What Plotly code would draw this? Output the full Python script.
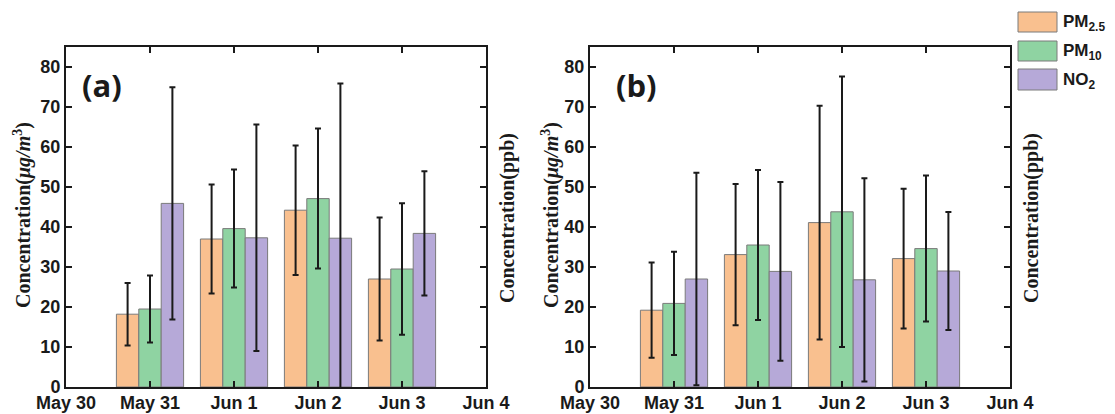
import plotly.graph_objects as go

dates = ["2020-05-31", "2020-06-01", "2020-06-02", "2020-06-03"]
series = ["PM<sub>2.5</sub>", "PM<sub>10</sub>", "NO<sub>2</sub>"]
colors = ["#F9C08F", "#8FD3A2", "#B6A9D8"]

# Panel (a)
a_pm25 = [18.2, 37.0, 44.2, 27.0]
a_pm25_sd = [7.8, 13.65, 16.2, 15.4]
a_pm10 = [19.5, 39.6, 47.1, 29.5]
a_pm10_sd = [8.35, 14.75, 17.5, 16.45]
a_no2 = [45.9, 37.3, 37.2, 38.4]
a_no2_sd = [29.05, 28.3, 38.7, 15.55]

# Panel (b)
b_pm25 = [19.2, 33.1, 41.1, 32.1]
b_pm25_sd = [11.9, 17.65, 29.2, 17.45]
b_pm10 = [20.9, 35.5, 43.8, 34.6]
b_pm10_sd = [12.9, 18.75, 33.8, 18.25]
b_no2 = [27.0, 28.9, 26.8, 29.0]
b_no2_sd = [26.55, 22.35, 25.4, 14.75]

# page body has an 8px margin: figure occupies (8..1115, 8..414)
OFF = 8
W, H = 1115 - OFF, 414 - OFF
fig = go.Figure()

panels = [
    ("x", "y", [a_pm25, a_pm10, a_no2], [a_pm25_sd, a_pm10_sd, a_no2_sd]),
    ("x2", "y2", [b_pm25, b_pm10, b_no2], [b_pm25_sd, b_pm10_sd, b_no2_sd]),
]
for xa, ya, vals, sds in panels:
    for name, v, sd, c in zip(series, vals, sds, colors):
        fig.add_trace(go.Bar(
            x=dates, y=v, name=name, xaxis=xa, yaxis=ya,
            marker=dict(color=c, line=dict(color="#7a7a7a", width=1)),
            error_y=dict(type="data", array=sd, color="#1a1a1a", thickness=2, width=3),
            showlegend=False,
        ))

xtickfont = dict(family="Liberation Sans, Arial", size=18, color="#1a1a1a", weight="bold")
ytickfont = dict(family="Liberation Sans, Arial", size=18, color="#1a1a1a", weight="bold")


def px_x(p):
    return (p - OFF) / W


def px_y(p):
    return 1 - (p - OFF) / H


xcommon = dict(
    type="date", range=["2020-05-30", "2020-06-04"], tickformat="%b %-d",
    tick0="2020-05-30", dtick=86400000, ticks="inside", ticklen=6, tickwidth=2,
    tickcolor="#1a1a1a", showline=True, linewidth=2, linecolor="#1a1a1a",
    mirror="ticks", showgrid=False, zeroline=False, tickfont=xtickfont, automargin=False,
    ticklabelstandoff=-2,
)
ycommon = dict(
    range=[0, 85], tickvals=[0, 10, 20, 30, 40, 50, 60, 70, 80], ticks="inside",
    ticklen=6, tickwidth=2, tickcolor="#1a1a1a", showline=True, linewidth=2,
    linecolor="#1a1a1a", mirror="ticks", showgrid=False, zeroline=False,
    tickfont=ytickfont, automargin=False,
)

ydom = [px_y(387), px_y(47)]
fig.update_layout(
    width=W, height=H, margin=dict(l=0, r=0, t=0, b=0),
    paper_bgcolor="white", plot_bgcolor="white",
    barmode="group", bargap=0.2, bargroupgap=0,
    xaxis=dict(domain=[px_x(66), px_x(486)], anchor="y", **xcommon),
    yaxis=dict(domain=ydom, anchor="x", **ycommon),
    xaxis2=dict(domain=[px_x(590), px_x(1010)], anchor="y2", **xcommon),
    yaxis2=dict(domain=ydom, anchor="x2", **ycommon),
    showlegend=False,
)

titlefont = dict(family="Liberation Serif, Times New Roman", size=20, color="#1a1a1a", weight="bold")
ann = []
for left_x, right_x, lab, lab_x in [(22, 507, "(a)", 102), (550, 1031, "(b)", 636)]:
    ann.append(dict(x=px_x(left_x), y=px_y(215), xref="paper", yref="paper",
                    text="Concentration(<i>μg/m</i><sup>3</sup>)", textangle=-90,
                    showarrow=False, font=titlefont, xanchor="center", yanchor="middle"))
    ann.append(dict(x=px_x(right_x), y=px_y(218), xref="paper", yref="paper",
                    text="Concentration(ppb)", textangle=-90,
                    showarrow=False, font=titlefont, xanchor="center", yanchor="middle"))
    ann.append(dict(x=px_x(lab_x), y=px_y(85), xref="paper", yref="paper",
                    text=lab, showarrow=False, xanchor="center", yanchor="middle",
                    font=dict(family="Open Sans, Liberation Sans", size=31, color="#1a1a1a", weight="bold")))

# Legend (drawn manually to match the large swatches)
shapes = []
legend_rows = [(12, 32), (41, 61), (69, 90)]
for (top, bot), name, c in zip(legend_rows, series, colors):
    shapes.append(dict(type="rect", xref="paper", yref="paper",
                       x0=px_x(1018), x1=px_x(1057), y0=px_y(bot), y1=px_y(top),
                       fillcolor=c, line=dict(color="#7a7a7a", width=1)))
    ann.append(dict(x=px_x(1061), y=px_y((top + bot) / 2 + 1), xref="paper", yref="paper",
                    text=name, showarrow=False, xanchor="left", yanchor="middle",
                    font=dict(family="Liberation Sans, Arial", size=17, color="#1a1a1a", weight="bold")))

fig.update_layout(annotations=ann, shapes=shapes)
fig.write_html("out.html")
